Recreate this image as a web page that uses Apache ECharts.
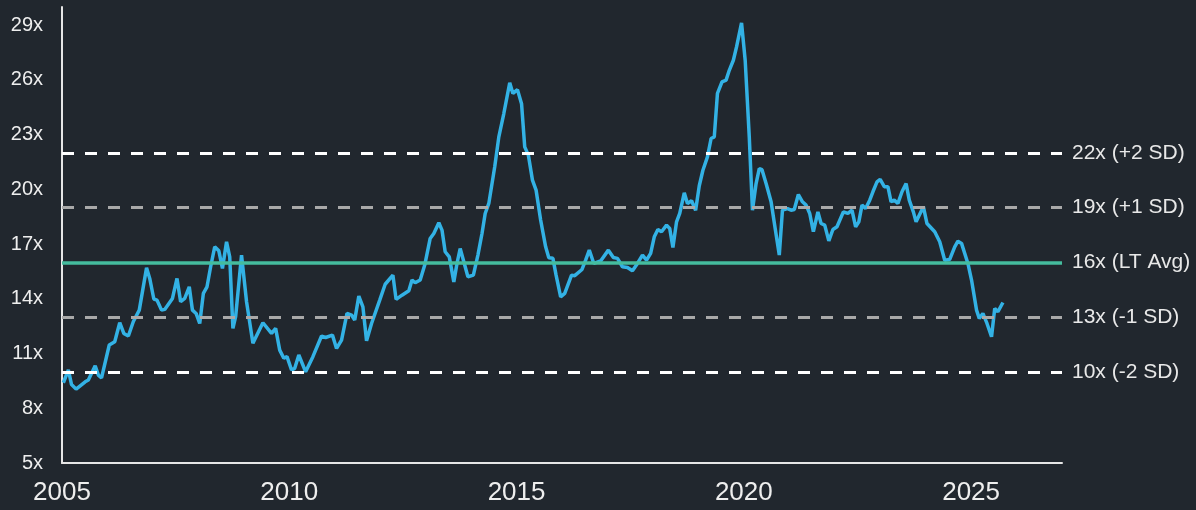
<!DOCTYPE html>
<html>
<head>
<meta charset="utf-8">
<script src="https://cdn.jsdelivr.net/npm/echarts@6/dist/echarts.min.js"></script>
<style>
  html, body { margin: 0; padding: 0; background: #21272e; }
  #peChart { width: 1196px; height: 510px; }
</style>
</head>
<body>
<div id="peChart"></div>
<script>
// forward P/E (decimal year, multiple)
var years = [
  2005.03, 2005.14, 2005.21, 2005.31, 2005.51, 2005.58, 2005.73, 2005.80, 2005.87, 2006.04,
  2006.16, 2006.27, 2006.36, 2006.46, 2006.57, 2006.70, 2006.86, 2006.93, 2007.02, 2007.09,
  2007.19, 2007.26, 2007.43, 2007.53, 2007.61, 2007.70, 2007.80, 2007.87, 2007.95, 2008.03,
  2008.11, 2008.19, 2008.27, 2008.36, 2008.45, 2008.53, 2008.62, 2008.69, 2008.76, 2008.82,
  2008.95, 2009.06, 2009.20, 2009.42, 2009.61, 2009.70, 2009.79, 2009.88, 2009.95, 2010.05,
  2010.12, 2010.21, 2010.36, 2010.52, 2010.71, 2010.80, 2010.95, 2011.04, 2011.15, 2011.27,
  2011.37, 2011.44, 2011.53, 2011.62, 2011.70, 2011.81, 2011.99, 2012.11, 2012.28, 2012.35,
  2012.48, 2012.63, 2012.70, 2012.77, 2012.88, 2012.98, 2013.10, 2013.18, 2013.29, 2013.36,
  2013.43, 2013.52, 2013.62, 2013.69, 2013.76, 2013.84, 2013.93, 2014.05, 2014.15, 2014.24,
  2014.31, 2014.39, 2014.52, 2014.61, 2014.72, 2014.85, 2014.92, 2015.02, 2015.11, 2015.18,
  2015.26, 2015.35, 2015.43, 2015.53, 2015.64, 2015.71, 2015.80, 2015.87, 2015.97, 2016.06,
  2016.21, 2016.28, 2016.44, 2016.52, 2016.60, 2016.70, 2016.85, 2017.02, 2017.13, 2017.22,
  2017.33, 2017.44, 2017.55, 2017.66, 2017.77, 2017.86, 2017.95, 2018.03, 2018.11, 2018.19,
  2018.30, 2018.37, 2018.44, 2018.52, 2018.59, 2018.69, 2018.76, 2018.85, 2018.94, 2019.02,
  2019.10, 2019.20, 2019.28, 2019.35, 2019.42, 2019.52, 2019.61, 2019.68, 2019.77, 2019.84,
  2019.95, 2020.03, 2020.12, 2020.19, 2020.27, 2020.34, 2020.40, 2020.49, 2020.60, 2020.69,
  2020.78, 2020.85, 2020.96, 2021.04, 2021.11, 2021.20, 2021.29, 2021.37, 2021.45, 2021.53,
  2021.63, 2021.70, 2021.78, 2021.87, 2021.96, 2022.05, 2022.19, 2022.29, 2022.38, 2022.46,
  2022.53, 2022.60, 2022.68, 2022.77, 2022.84, 2022.93, 2023.00, 2023.09, 2023.17, 2023.24,
  2023.31, 2023.39, 2023.48, 2023.57, 2023.64, 2023.73, 2023.79, 2023.95, 2024.03, 2024.20,
  2024.31, 2024.42, 2024.53, 2024.64, 2024.71, 2024.79, 2024.93, 2025.01, 2025.12, 2025.18,
  2025.26, 2025.35, 2025.45, 2025.52, 2025.59, 2025.70
];
var peValues = [
  9.40, 10.10, 9.30, 9.05, 9.45, 9.55, 10.33, 9.82, 9.67, 11.47,
  11.65, 12.69, 12.10, 11.96, 12.76, 13.38, 15.70, 15.12, 13.99, 13.93,
  13.38, 13.42, 14.02, 15.12, 13.84, 14.02, 14.66, 13.38, 13.20, 12.65,
  14.30, 14.66, 15.76, 16.85, 16.63, 15.67, 17.13, 16.30, 12.38, 13.02,
  16.40, 13.84, 11.56, 12.69, 12.11, 12.38, 11.19, 10.74, 10.83, 10.10,
  10.19, 10.92, 10.00, 10.83, 11.96, 11.88, 12.01, 11.28, 11.74, 13.20,
  13.11, 12.84, 14.15, 13.56, 11.70, 12.65, 13.93, 14.80, 15.30, 13.97,
  14.20, 14.44, 15.03, 14.88, 15.03, 15.85, 17.31, 17.58, 18.17, 17.77,
  16.58, 16.30, 14.93, 15.94, 16.76, 16.03, 15.21, 15.30, 16.40, 17.58,
  18.68, 19.23, 21.24, 22.88, 24.16, 25.84, 25.26, 25.47, 24.70, 22.33,
  21.88, 20.51, 19.96, 18.32, 16.85, 16.25, 16.22, 15.30, 14.11, 14.30,
  15.30, 15.27, 15.61, 16.12, 16.67, 15.94, 16.08, 16.67, 16.27, 16.22,
  15.76, 15.72, 15.54, 15.94, 16.40, 16.12, 16.49, 17.40, 17.80, 17.68,
  18.04, 17.86, 16.82, 18.22, 18.68, 19.81, 19.23, 19.38, 18.86, 20.20,
  21.05, 21.78, 22.79, 22.88, 25.26, 25.89, 25.99, 26.53, 27.08, 27.81,
  29.13, 27.08, 22.88, 18.86, 20.32, 21.14, 21.08, 20.32, 19.32, 17.86,
  16.40, 18.86, 18.95, 18.86, 18.90, 19.72, 19.32, 19.14, 18.68, 17.68,
  18.77, 18.13, 18.04, 17.18, 17.80, 17.95, 18.77, 18.68, 18.86, 17.95,
  18.22, 19.14, 18.95, 19.41, 19.87, 20.41, 20.55, 20.15, 20.15, 19.32,
  19.41, 19.23, 19.87, 20.32, 19.41, 18.77, 18.22, 19.05, 18.13, 17.68,
  17.13, 16.12, 16.16, 16.85, 17.16, 17.04, 15.94, 15.03, 13.38, 12.93,
  13.20, 12.65, 11.92, 13.48, 13.29, 13.80
];

// reference levels
var levelValues = [22, 19, 16, 13, 10];
var levelLabels = ['22x (+2 SD)', '19x (+1 SD)', '16x (LT Avg)', '13x (-1 SD)', '10x (-2 SD)'];
var levelColors = ['#ffffff', '#a9a9a9', '#45bc9e', '#a9a9a9', '#ffffff'];

var yTicks = [5, 8, 11, 14, 17, 20, 23, 26, 29];
var xTicks = [2005, 2010, 2015, 2020, 2025];

var seriesData = years.map(function (y, i) { return [y, peValues[i]]; });

var levelLines = levelValues.map(function (v, i) {
    var solid = v === 16;
    return {
        yAxis: v,
        label: {
            show: true,
            position: 'end',
            distance: 10,
            formatter: levelLabels[i],
            color: '#e8e8e8',
            fontSize: 21,
            fontFamily: 'Liberation Sans, Arial, sans-serif'
        },
        lineStyle: {
            color: levelColors[i],
            width: solid ? 3.5 : 3,
            type: solid ? 'solid' : [12, 11],
            opacity: 1
        }
    };
});

var myChart = echarts.init(document.getElementById('peChart'));
var option = {
    backgroundColor: '#21272e',
    animation: false,
    grid: { left: 62, right: 134, top: 7, bottom: 47 },
    xAxis: {
        type: 'value',
        min: 2005,
        max: 2027,
        splitLine: { show: false },
        axisTick: { show: false },
        axisLine: { show: true, lineStyle: { color: '#e6e6e6', width: 2 } },
        axisLabel: {
            customValues: xTicks,
            color: '#eeeeee',
            fontSize: 26,
            margin: 17,
            fontFamily: 'Liberation Sans, Arial, sans-serif',
            formatter: function (v) { return String(v); }
        }
    },
    yAxis: {
        type: 'value',
        min: 5,
        max: 30,
        splitLine: { show: false },
        axisTick: { show: false },
        axisLine: { show: true, lineStyle: { color: '#e6e6e6', width: 2 } },
        axisLabel: {
            customValues: yTicks,
            color: '#eeeeee',
            fontSize: 20,
            margin: 19,
            fontFamily: 'Liberation Sans, Arial, sans-serif',
            formatter: function (v) { return v + 'x'; }
        }
    },
    series: [
        {
            name: 'Forward P/E',
            type: 'line',
            data: seriesData,
            showSymbol: false,
            smooth: false,
            lineStyle: { color: '#33b2e5', width: 3.5 },
            itemStyle: { color: '#33b2e5' },
            markLine: {
                silent: true,
                symbol: 'none',
                data: levelLines
            },
            z: 2
        }
    ]
};
myChart.setOption(option);
</script>
</body>
</html>
